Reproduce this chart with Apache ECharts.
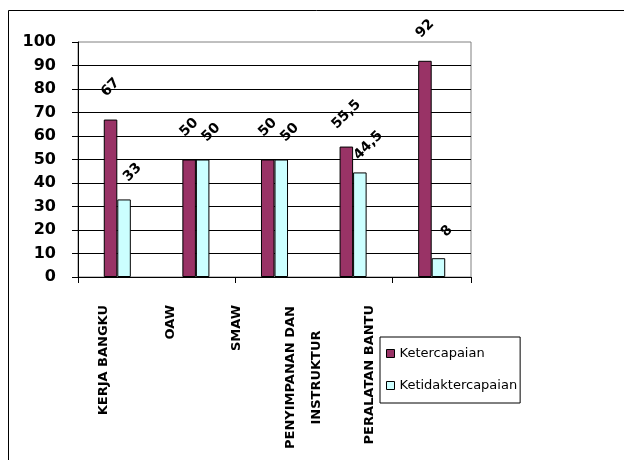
<!DOCTYPE html>
<html>
<head>
<meta charset="utf-8">
<script src="https://cdn.jsdelivr.net/npm/echarts@6/dist/echarts.min.js"></script>
<style>
  html, body { margin: 0; padding: 0; background: #fff; }
  #chart { width: 624px; height: 460px; }
</style>
</head>
<body>
<div id="chart"></div>
<script>
// Categories and achievement percentages per competency area
const categories = ['KERJA BANGKU', 'OAW', 'SMAW', 'PENYIMPANAN DAN\nINSTRUKTUR', 'PERALATAN BANTU'];
const ketercapaian = [67, 50, 50, 55.5, 92];
const ketidaktercapaian = [33, 50, 50, 44.5, 8];
const yTicks = { min: 0, max: 100, interval: 10 };

const FONT = 'DejaVu Sans';
// decimal comma for the value labels
const fmtValue = p => String(p.value).replace('.', ',');

const chart = echarts.init(document.getElementById('chart'), null, { renderer: 'canvas' });

chart.setOption({
  animation: false,
  backgroundColor: '#fff',
  graphic: [{
    // chart area frame
    type: 'rect',
    shape: { x: 8.5, y: 10.5, width: 1000, height: 1000 },
    style: { fill: 'none', stroke: '#000', lineWidth: 1 },
    silent: true,
    z: -1
  }],
  grid: [
    { left: 78, top: 42, width: 393, height: 235, show: true, borderColor: '#808080', borderWidth: 1, backgroundColor: 'transparent' },
    // label row for the category names
    { left: 70.75, top: 42, width: 332.5, height: 235 }
  ],
  legend: {
    orient: 'vertical',
    left: 380, top: 337,
    padding: [10, 3, 11, 6],
    borderColor: '#000', borderWidth: 1,
    itemWidth: 8, itemHeight: 8, itemGap: 19,
    icon: 'rect',
    itemStyle: { borderColor: '#000', borderWidth: 1 },
    textStyle: { fontFamily: FONT, fontSize: 13, color: '#000' }
  },
  xAxis: [
    {
      type: 'category', gridIndex: 0, data: categories,
      axisLine: { lineStyle: { color: '#000', width: 1 } },
      axisTick: { show: true, length: 6, lineStyle: { color: '#000' } },
      axisLabel: { show: false }
    },
    {
      type: 'category', gridIndex: 1, data: categories,
      axisLine: { show: false }, axisTick: { show: false },
      axisLabel: {
        rotate: 90, margin: 28, interval: 0,
        fontFamily: FONT, fontSize: 13, fontWeight: 'bold', color: '#000', lineHeight: 26,
        formatter: v => v.indexOf('\n') >= 0 ? v.split('\n').map(s => '{w|' + s + '}').join('\n') : v,
        rich: { w: { width: 145, align: 'center', fontFamily: FONT, fontSize: 13, fontWeight: 'bold', color: '#000', lineHeight: 26 } }
      }
    }
  ],
  yAxis: [
    {
      type: 'value', gridIndex: 0, min: yTicks.min, max: yTicks.max, interval: yTicks.interval,
      axisLine: { show: true, lineStyle: { color: '#000', width: 1 } },
      axisTick: { show: true, length: 6, lineStyle: { color: '#000' } },
      axisLabel: { margin: 22, fontFamily: FONT, fontSize: 16, fontWeight: 'bold', color: '#000' },
      splitLine: { show: true, showMaxLine: false, lineStyle: { color: '#000', width: 1 } }
    },
    { type: 'value', gridIndex: 1, min: 0, max: 100, show: false }
  ],
  series: [
    {
      name: 'Ketercapaian', type: 'bar', xAxisIndex: 0, yAxisIndex: 0,
      data: ketercapaian, barWidth: '17.2%', barGap: '0%',
      itemStyle: { color: '#993366', borderColor: '#000', borderWidth: 1 },
      label: {
        show: true, position: 'top', distance: 32, rotate: 45,
        align: 'center', verticalAlign: 'middle',
        fontFamily: FONT, fontSize: 14, fontWeight: 'bold', color: '#000',
        formatter: fmtValue
      }
    },
    {
      name: 'Ketidaktercapaian', type: 'bar', xAxisIndex: 0, yAxisIndex: 0,
      data: ketidaktercapaian, barWidth: '17.2%', barGap: '0%',
      itemStyle: { color: '#CCFFFF', borderColor: '#000', borderWidth: 1 },
      label: {
        show: true, position: 'top', distance: 27, rotate: 45,
        align: 'center', verticalAlign: 'middle', offset: [6, 6],
        fontFamily: FONT, fontSize: 14, fontWeight: 'bold', color: '#000',
        formatter: fmtValue
      }
    }
  ]
});
</script>
</body>
</html>
